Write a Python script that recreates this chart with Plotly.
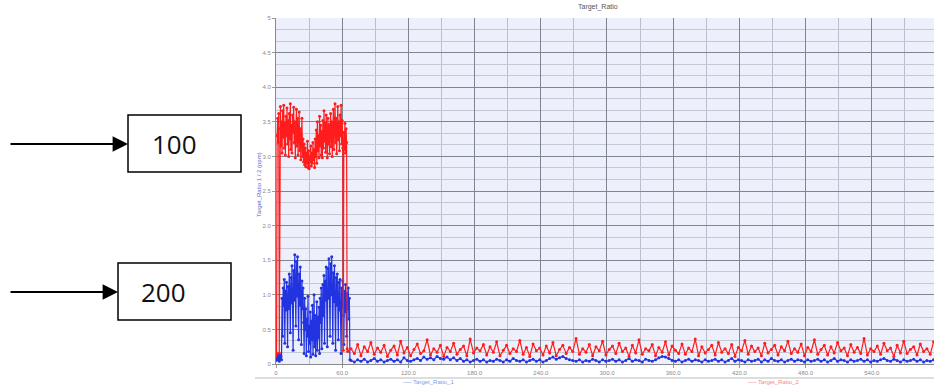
import numpy as np
import plotly.graph_objects as go

# ---------------- data ----------------
# segment A: t = 0 .. ~67 s, sampled every 0.5
red_a = [0.12, 0.15, 3.30, 3.55, 3.20, 3.62, 0.16, 3.40, 3.72, 3.15,
         3.50, 3.05, 3.66, 3.28, 3.74, 3.12, 3.48, 3.02, 3.58, 3.30,
         3.70, 3.18, 3.52, 3.00, 3.62, 3.25, 3.76, 3.10, 3.45, 3.05,
         3.60, 3.35, 3.71, 3.20, 3.50, 2.98, 3.42, 3.68, 3.15, 3.55,
         3.02, 3.38, 3.64, 3.08, 3.40, 2.95, 3.30, 3.55, 3.00, 3.25,
         2.92, 3.18, 2.88, 3.12, 2.85, 3.05, 2.90, 3.22, 2.84, 3.08,
         2.82, 3.00, 2.92, 3.15, 2.86, 3.05, 2.90, 3.20, 2.95, 3.10,
         2.84, 3.25, 3.00, 3.38, 2.90, 3.50, 3.08, 3.30, 2.98, 3.58,
         3.15, 3.45, 3.02, 3.36, 2.98, 3.52, 3.12, 3.66, 3.22, 3.48,
         3.06, 3.60, 3.28, 2.98, 3.55, 3.18, 3.46, 3.04, 3.40, 3.62,
         3.14, 3.50, 3.00, 3.35, 3.68, 3.10, 3.44, 3.76, 3.20, 3.55,
         3.04, 3.42, 3.72, 3.24, 3.50, 3.08, 3.60, 3.30, 3.74, 3.18,
         3.52, 3.12, 0.20, 3.35, 3.10, 3.48, 3.05, 3.40, 3.20, 0.22,
         0.18]

blue_a = [0.05, 0.12, 0.07, 0.14, 0.06, 0.10, 0.04, 0.13, 0.08, 0.11,
          0.06, 0.95, 0.40, 1.10, 0.85, 1.22, 0.30, 1.05, 0.78, 1.18,
          0.92, 0.25, 1.12, 0.80, 1.30, 0.95, 0.45, 1.25, 0.88, 1.42,
          1.05, 0.20, 1.35, 0.92, 1.58, 1.10, 0.55, 1.48, 0.98, 1.55,
          1.15, 0.35, 1.30, 0.85, 1.40, 1.00, 0.28, 1.20, 0.80, 1.10,
          0.60, 0.15, 0.95, 0.50, 0.80, 0.12, 0.65, 0.40, 0.98, 0.18,
          0.55, 0.30, 0.75, 0.10, 0.62, 0.35, 0.85, 0.14, 0.50, 1.00,
          0.25, 0.70, 0.12, 0.58, 0.90, 0.20, 0.68, 0.38, 0.82, 0.15,
          0.95, 0.60, 1.10, 0.22, 0.90, 1.15, 0.70, 1.28, 0.30, 1.20,
          0.92, 1.40, 1.05, 0.25, 1.38, 0.95, 1.52, 1.10, 0.40, 1.45,
          1.00, 1.55, 1.15, 0.30, 1.32, 0.90, 1.42, 1.05, 0.20, 1.25,
          0.85, 1.30, 0.95, 0.35, 1.18, 0.78, 1.22, 0.90, 0.15, 1.10,
          0.82, 1.20, 0.70, 0.28, 1.05, 0.75, 1.15, 0.85, 0.40, 1.02,
          0.80, 1.10, 0.65, 0.95, 0.06]

# segment B: t = 68 .. 596 s, sampled every 3
red_b = [0.22, 0.15, 0.28, 0.12, 0.25, 0.18, 0.31, 0.14, 0.23, 0.17,
         0.27, 0.11, 0.20, 0.26, 0.13, 0.33, 0.16, 0.24, 0.12, 0.21,
         0.29, 0.15, 0.19, 0.35, 0.13, 0.22, 0.17, 0.27, 0.11, 0.24,
         0.18, 0.30, 0.14, 0.21, 0.26, 0.12, 0.36, 0.16, 0.23, 0.19,
         0.28, 0.13, 0.25, 0.17, 0.32, 0.12, 0.20, 0.27, 0.15, 0.22,
         0.18, 0.34, 0.14, 0.24, 0.11, 0.29, 0.19, 0.23, 0.13, 0.26,
         0.16, 0.31, 0.12, 0.21, 0.27, 0.15, 0.24, 0.18, 0.37, 0.14,
         0.22, 0.17, 0.28, 0.12, 0.25, 0.19, 0.33, 0.13, 0.21, 0.26,
         0.15, 0.30, 0.18, 0.23, 0.11, 0.27, 0.16, 0.35, 0.14, 0.22,
         0.19, 0.28, 0.12, 0.24, 0.17, 0.32, 0.13, 0.26, 0.20, 0.15,
         0.29, 0.14, 0.23, 0.18, 0.36, 0.12, 0.25, 0.16, 0.21, 0.27,
         0.13, 0.31, 0.17, 0.22, 0.15, 0.28, 0.11, 0.24, 0.19, 0.34,
         0.14, 0.26, 0.18, 0.23, 0.12, 0.30, 0.16, 0.21, 0.27, 0.13,
         0.25, 0.19, 0.33, 0.15, 0.22, 0.17, 0.29, 0.12, 0.24, 0.18,
         0.35, 0.14, 0.21, 0.27, 0.13, 0.25, 0.16, 0.31, 0.19, 0.23,
         0.12, 0.28, 0.17, 0.24, 0.15, 0.37, 0.13, 0.22, 0.18, 0.26,
         0.14, 0.30, 0.19, 0.23, 0.11, 0.27, 0.16, 0.33, 0.15, 0.21,
         0.25, 0.13, 0.29, 0.18, 0.22, 0.14, 0.32]

blue_b = [0.05, 0.03, 0.06, 0.04, 0.07, 0.03, 0.05, 0.08, 0.04, 0.06,
          0.03, 0.05, 0.07, 0.04, 0.06, 0.03, 0.09, 0.05, 0.04, 0.06,
          0.08, 0.05, 0.10, 0.07, 0.09, 0.06, 0.11, 0.08, 0.07, 0.10,
          0.06, 0.09, 0.05, 0.08, 0.04, 0.06, 0.03, 0.05, 0.07, 0.04,
          0.06, 0.03, 0.05, 0.04, 0.07, 0.05, 0.03, 0.06, 0.04, 0.08,
          0.05, 0.04, 0.06, 0.03, 0.05, 0.07, 0.04, 0.06, 0.03, 0.05,
          0.08, 0.10, 0.07, 0.09, 0.11, 0.08, 0.06, 0.05, 0.04, 0.06,
          0.03, 0.05, 0.04, 0.07, 0.05, 0.03, 0.06, 0.04, 0.05, 0.07,
          0.04, 0.06, 0.03, 0.05, 0.08, 0.04, 0.06, 0.05, 0.03, 0.07,
          0.05, 0.04, 0.06, 0.09, 0.11, 0.10, 0.08, 0.05, 0.04, 0.06,
          0.03, 0.05, 0.07, 0.04, 0.06, 0.05, 0.03, 0.06, 0.04, 0.05,
          0.07, 0.04, 0.06, 0.03, 0.05, 0.08, 0.04, 0.06, 0.05, 0.03,
          0.06, 0.04, 0.05, 0.07, 0.03, 0.06, 0.04, 0.08, 0.05, 0.04,
          0.06, 0.03, 0.05, 0.07, 0.04, 0.06, 0.05, 0.03, 0.06, 0.04,
          0.05, 0.07, 0.04, 0.06, 0.03, 0.05, 0.08, 0.04, 0.06, 0.05,
          0.03, 0.06, 0.04, 0.05, 0.07, 0.04, 0.06, 0.03, 0.05, 0.04,
          0.06, 0.08, 0.05, 0.04, 0.07, 0.05, 0.03, 0.06, 0.04, 0.05,
          0.07, 0.04, 0.06, 0.03, 0.05, 0.04, 0.06]

seg_a_step = 0.5
seg_b_start = 68.0
seg_b_step = 3.0

x_tickvals = [0, 60, 120, 180, 240, 300, 360, 420, 480, 540]
x_ticktext = ["0", "60.0", "120.0", "180.0", "240.0", "300.0", "360.0", "420.0", "480.0", "540.0"]
y_tickvals = [0, 0.5, 1.0, 1.5, 2.0, 2.5, 3.0, 3.5, 4.0, 4.5, 5.0]
y_ticktext = ["0", "0.5", "1.0", "1.5", "2.0", "2.5", "3.0", "3.5", "4.0", "4.5", "5"]

callouts = ["100", "200"]
chart_title = "Target_Ratio"
y_title = "Target_Ratio 1 / 2 (ppm)"
legend_labels = ["── Target_Ratio_1", "── Target_Ratio_2"]

# ---------------- build series ----------------
def series(a, b):
    xa = np.arange(len(a)) * seg_a_step
    xb = seg_b_start + np.arange(len(b)) * seg_b_step
    return np.concatenate([xa, xb]), np.array(a + b)

xr, yr = series(red_a, red_b)
xbl, ybl = series(blue_a, blue_b)

W, H = 934, 386
L, T, B = 276, 18, 22
PW, PH = W - L, H - T - B

def px(x):
    return (x - L) / PW

def py(y):
    return (H - B - y) / PH

RED = "#ff1c1c"
BLUE = "#2233e0"

fig = go.Figure()
fig.add_trace(go.Scatter(x=xbl, y=ybl, mode="lines+markers",
                         line=dict(color=BLUE, width=1.2),
                         marker=dict(color=BLUE, size=3),
                         showlegend=False))
fig.add_trace(go.Scatter(x=xr, y=yr, mode="lines+markers",
                         line=dict(color=RED, width=1.2),
                         marker=dict(color=RED, size=3),
                         showlegend=False))

tick_font = dict(family="Liberation Sans", size=6, color="#8a8a8a")
fig.update_xaxes(range=[0, 596.4], tickvals=x_tickvals, ticktext=x_ticktext,
                 tickfont=tick_font, showgrid=True, gridcolor="#7e8594", gridwidth=1,
                 minor=dict(dtick=30, showgrid=True, gridcolor="#b9bfcc", gridwidth=1),
                 showline=True, linecolor="#8a8a8a", linewidth=1,
                 ticks="outside", ticklen=3, tickcolor="#9a9a9a",
                 zeroline=False, fixedrange=True)
fig.update_yaxes(range=[0, 5], tickvals=y_tickvals, ticktext=y_ticktext,
                 tickfont=tick_font, showgrid=True, gridcolor="#7e8594", gridwidth=1,
                 minor=dict(tickvals=[v / 6 for v in range(31)], showgrid=True,
                            gridcolor="#c3c8d4", gridwidth=1),
                 showline=True, linecolor="#8a8a8a", linewidth=1,
                 ticks="outside", ticklen=3, tickcolor="#9a9a9a",
                 zeroline=False, fixedrange=True)

shapes = []
annotations = []

# left callout boxes and arrows
boxes = [(128, 115, 241, 172, 150, 144, 9), (118, 263, 231, 320, 139, 292, 9)]
for (x0, y0, x1, y1, tx, ay_px, tail), label in zip(boxes, callouts):
    shapes.append(dict(type="rect", xref="paper", yref="paper",
                       x0=px(x0), x1=px(x1), y0=py(y1), y1=py(y0),
                       line=dict(color="black", width=1.5), fillcolor="white"))
    annotations.append(dict(xref="paper", yref="paper", x=px(tx), y=py((y0 + y1) / 2),
                            xanchor="left", yanchor="middle", text=label, showarrow=False,
                            font=dict(family="Open Sans", size=26, color="#111111")))
    annotations.append(dict(xref="paper", yref="paper", x=px(x0), y=py(ay_px),
                            text="", showarrow=True, arrowhead=2, arrowsize=1.4,
                            arrowwidth=2.2, arrowcolor="black", standoff=0,
                            ax=-(x0 - tail), ay=0))

# title
annotations.append(dict(xref="paper", yref="paper", x=px(598), y=py(7),
                        xanchor="center", yanchor="middle", text=chart_title, showarrow=False,
                        font=dict(family="Liberation Sans", size=7, color="#555555")))
# y-axis title
annotations.append(dict(xref="paper", yref="paper", x=px(259), y=py(185),
                        xanchor="center", yanchor="middle", text=y_title, textangle=-90,
                        showarrow=False,
                        font=dict(family="Liberation Sans", size=6, color="#5566cc")))
# bottom separator and legend
shapes.append(dict(type="line", xref="paper", yref="paper", x0=px(255), x1=px(934),
                   y0=py(378), y1=py(378), line=dict(color="#d2d2d2", width=1.5)))
annotations.append(dict(xref="paper", yref="paper", x=px(428), y=py(386),
                        xanchor="center", yanchor="bottom", text=legend_labels[0], showarrow=False,
                        borderpad=0,
                        font=dict(family="Liberation Sans", size=6, color="#7f9be6")))
annotations.append(dict(xref="paper", yref="paper", x=px(773), y=py(386),
                        xanchor="center", yanchor="bottom", text=legend_labels[1], showarrow=False,
                        borderpad=0,
                        font=dict(family="Liberation Sans", size=6, color="#f08a8a")))

fig.update_layout(width=W, height=H, margin=dict(l=L, r=0, t=T, b=B),
                  paper_bgcolor="white", plot_bgcolor="#edf0fb",
                  shapes=shapes, annotations=annotations, showlegend=False)

fig.write_html("out.html")
